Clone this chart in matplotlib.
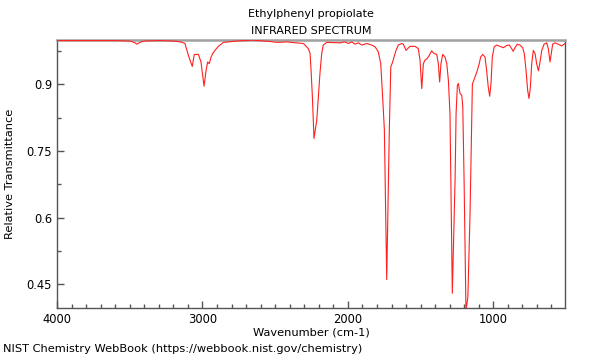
import matplotlib
matplotlib.use("Agg")
import matplotlib.pyplot as plt
from matplotlib.ticker import FixedLocator, MultipleLocator, FixedFormatter

title = "Ethylphenyl propiolate\nINFRARED SPECTRUM"
xlabel = "Wavenumber (cm-1)"
ylabel = "Relative Transmittance"
footer = "NIST Chemistry WebBook (https://webbook.nist.gov/chemistry)"

wavenumber = [4000, 3800, 3600, 3500, 3470, 3450, 3430, 3400, 3300, 3200, 3150, 3120,
              3097, 3070, 3056, 3028, 3010, 2989, 2975, 2964, 2953, 2941, 2929, 2914,
              2891, 2856, 2764, 2652, 2535, 2489, 2420, 2306, 2272, 2260, 2253, 2244,
              2233, 2224, 2214, 2203, 2192, 2180, 2169, 2146, 2054, 2020, 1997, 1974,
              1951, 1928, 1905, 1870, 1836, 1813, 1791, 1774, 1761, 1749, 1733, 1715,
              1705, 1692, 1683, 1669, 1653, 1630, 1619, 1600, 1589, 1573, 1538, 1516,
              1504, 1492, 1481, 1470, 1454, 1440, 1424, 1408, 1389, 1378, 1369, 1360,
              1348, 1332, 1320, 1309, 1298, 1282, 1263, 1256, 1247, 1240, 1229, 1217,
              1210, 1201, 1188, 1175, 1160, 1148, 1144, 1126, 1110, 1097, 1087, 1073,
              1057, 1046, 1035, 1025, 1016, 1007, 994, 977, 954, 931, 908, 890, 874,
              863, 851, 835, 817, 798, 787, 775, 764, 755, 746, 736, 725, 713, 702,
              690, 679, 667, 651, 633, 622, 610, 603, 592, 576, 553, 530, 507]
transmittance = [0.998, 0.998, 0.998, 0.997, 0.994, 0.990, 0.994, 0.997, 0.998, 0.997, 0.995, 0.9915,
                 0.965, 0.940, 0.967, 0.967, 0.950, 0.8955, 0.931, 0.950, 0.946, 0.961, 0.969, 0.976,
                 0.985, 0.994, 0.997, 0.999, 0.996, 0.994, 0.995, 0.9915, 0.980, 0.969, 0.931, 0.871,
                 0.778, 0.797, 0.819, 0.871, 0.924, 0.969, 0.988, 0.994, 0.993, 0.995, 0.9915, 0.995,
                 0.990, 0.993, 0.988, 0.9915, 0.988, 0.984, 0.973, 0.946, 0.871, 0.797, 0.461, 0.797,
                 0.939, 0.950, 0.961, 0.976, 0.988, 0.9915, 0.990, 0.976, 0.980, 0.985, 0.985, 0.980,
                 0.954, 0.890, 0.946, 0.954, 0.958, 0.965, 0.975, 0.969, 0.967, 0.946, 0.905, 0.946,
                 0.967, 0.961, 0.946, 0.909, 0.834, 0.430, 0.684, 0.835, 0.898, 0.9015, 0.879, 0.875,
                 0.849, 0.684, 0.390, 0.422, 0.610, 0.835, 0.900, 0.916, 0.931, 0.946, 0.961, 0.967,
                 0.961, 0.931, 0.894, 0.873, 0.9015, 0.961, 0.984, 0.988, 0.985, 0.982, 0.987, 0.988, 0.980,
                 0.974, 0.982, 0.990, 0.988, 0.982, 0.969, 0.931, 0.8865, 0.868, 0.890, 0.946, 0.976, 0.969, 0.946,
                 0.930, 0.950, 0.976, 0.990, 0.993, 0.980, 0.950, 0.965, 0.990, 0.993, 0.990, 0.986, 0.9915]

ytick_values = [0.45, 0.6, 0.75, 0.9]
ytick_labels = ["0.45", "0.6", "0.75", "0.9"]
xtick_values = [4000, 3000, 2000, 1000]

plt.rcParams['font.family'] = ['DejaVu Sans']
fig = plt.figure(figsize=(6, 3.6), dpi=100)
ax = fig.add_axes([0.095, 0.1444, 0.8467, 0.7453])
ax.plot(wavenumber, transmittance, color="#ff2020", lw=0.8, zorder=3)
ax.set_xlim(4000, 507)
ax.set_ylim(0.397, 1.0)

ax.xaxis.set_major_locator(FixedLocator(xtick_values))
ax.xaxis.set_minor_locator(MultipleLocator(100))
ax.yaxis.set_major_locator(FixedLocator(ytick_values))
ax.yaxis.set_major_formatter(FixedFormatter(ytick_labels))
ax.yaxis.set_minor_locator(MultipleLocator(0.075))
ax.tick_params(which="both", direction="in", top=False, right=False, labelsize=8.3, color="#555555")
ax.tick_params(which="major", length=5, width=1)
ax.tick_params(which="minor", length=3, width=1)

for s in ["left", "bottom", "right"]:
    ax.spines[s].set_color("#555555")
    ax.spines[s].set_linewidth(1)
ax.spines["top"].set_color("#a0a0a0")
ax.spines["top"].set_linewidth(1.8)

ax.set_title(title, fontsize=8, pad=4, linespacing=1.85)
ax.set_xlabel(xlabel, fontsize=8.2, labelpad=1)
ax.set_ylabel(ylabel, fontsize=8.2, labelpad=8)
fig.text(0.005, 0.022, footer, fontsize=8.2, ha="left", va="baseline")

fig.savefig("out.png", dpi=100)
